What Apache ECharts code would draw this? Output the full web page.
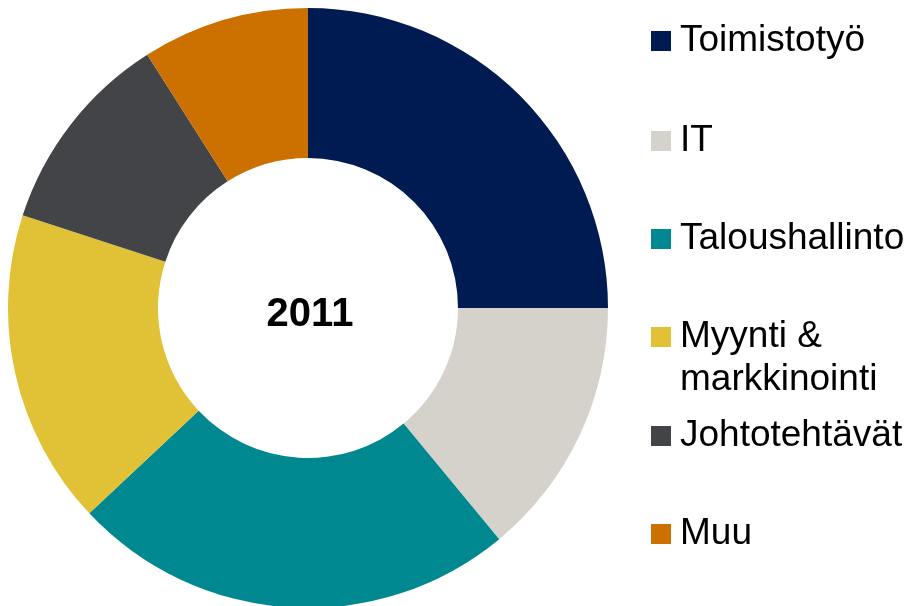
<!DOCTYPE html>
<html>
<head>
<meta charset="utf-8">
<script src="https://cdn.jsdelivr.net/npm/echarts@6/dist/echarts.min.js"></script>
<style>
  html, body { margin: 0; padding: 0; background: #fff; }
  #main { width: 911px; height: 606px; }
</style>
</head>
<body>
<div id="main"></div>
<script>
// osuudet (%) vuonna 2011
var categories = ['Toimistotyö', 'IT', 'Taloushallinto', 'Myynti &\nmarkkinointi', 'Johtotehtävät', 'Muu']
var values     = [25, 14, 24, 17, 11, 9]
var colors     = ['#001A52', '#D5D2CB', '#008891', '#E1C136', '#434448', '#CC7000']
var yearLabel  = '2011'

// legendan ruutujen keskikohdat (y)
var legendCenters = [41, 141, 239, 337, 436, 534]

var chart = echarts.init(document.getElementById('main'))

var pieData = []
for (let i = 0; i < categories.length; i++) {
    pieData.push({ name: categories[i], value: values[i], itemStyle: { color: colors[i] } })
}

// yksi legenda per rivi, jotta kaksirivinen teksti asettuu kuten alkuperäisessä
var legends = []
for (let i = 0; i < categories.length; i++) {
    let multi = categories[i].indexOf('\n') >= 0
    legends.push({
        orient: 'vertical',
        left: 651,
        top: legendCenters[i] - (multi ? 64.5 : 21.5),
        padding: 0,
        icon: 'rect',
        itemWidth: 20,
        itemHeight: 20,
        selectedMode: false,
        data: [categories[i]],
        // tyhjä ylärivi: ensimmäinen tekstirivi ruudun kohdalle
        formatter: function (name) { return name.indexOf('\n') >= 0 ? ' \n' + name : name },
        textStyle: {
            fontFamily: 'Liberation Sans, Arial, sans-serif',
            fontSize: 37,
            lineHeight: 43,
            color: '#000',
            padding: [0, 0, 0, 4],
            backgroundColor: 'transparent'
        }
    })
}

chart.setOption({
    animation: false,
    legend: legends,
    graphic: [{
        type: 'text',
        x: 310,
        y: 315,
        style: {
            text: yearLabel,
            fontFamily: 'Liberation Sans, Arial, sans-serif',
            fontSize: 40,
            fontWeight: 'bold',
            fill: '#000',
            align: 'center',
            verticalAlign: 'middle'
        }
    }],
    series: [{
        type: 'pie',
        center: [308, 308],
        radius: [150, 300],
        startAngle: 90,
        clockwise: true,
        label: { show: false },
        labelLine: { show: false },
        emphasis: { disabled: true },
        itemStyle: { borderWidth: 0 },
        data: pieData
    }]
})
</script>
</body>
</html>
